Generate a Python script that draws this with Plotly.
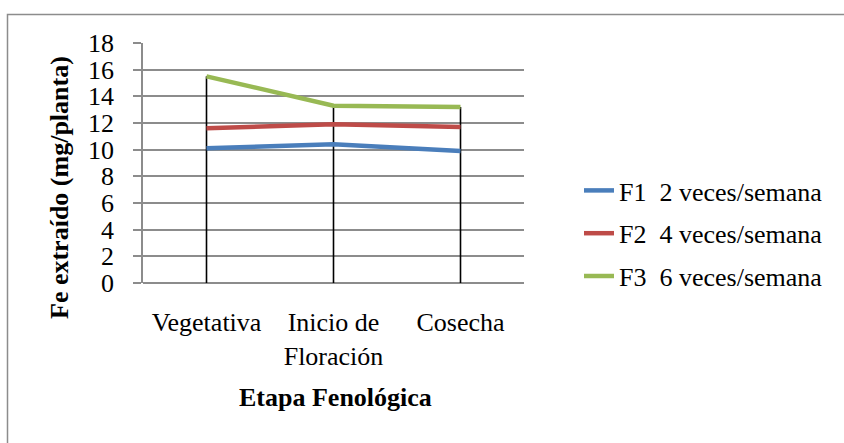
import plotly.graph_objects as go

# Fenological stages and Fe extracted per plant (mg/planta)
etapas = ["Vegetativa", "Inicio de<br>Floración", "Cosecha"]
f1 = [10.1, 10.4, 9.9]
f2 = [11.6, 11.9, 11.7]
f3 = [15.5, 13.3, 13.2]
nombres = ["F1  2 veces/semana", "F2  4 veces/semana", "F3  6 veces/semana"]
colores = ["#4A7EBB", "#BE4B48", "#98B954"]
y_ticks = [0, 2, 4, 6, 8, 10, 12, 14, 16, 18]

FONT = "Liberation Serif, Times New Roman, serif"
FS = 26

fig = go.Figure()

# Drop lines: from the highest series value down to zero at each stage
xs, ys = [], []
for i, cat in enumerate(etapas):
    top = max(f1[i], f2[i], f3[i])
    xs += [cat, cat, None]
    ys += [0, top, None]
fig.add_trace(go.Scatter(x=xs, y=ys, mode="lines", line=dict(color="black", width=1.6),
                         showlegend=False, hoverinfo="skip"))

for idx, (serie, nombre, color) in enumerate(zip([f1, f2, f3], nombres, colores)):
    fig.add_trace(go.Scatter(x=etapas, y=serie, name=nombre, mode="lines",
                             line=dict(color=color, width=4.5),
                             legendgroup=f"g{idx}"))

L, R, T, B = 143, 320, 43, 160
W, H = 844, 443
pw, ph = W - L - R, H - T - B

def px_x(x):
    return (x - L) / pw

def px_y(y):
    return (H - B - y) / ph

fig.update_layout(
    width=W, height=H,
    margin=dict(l=L, r=R, t=T, b=B, pad=0),
    paper_bgcolor="white", plot_bgcolor="white",
    font=dict(family=FONT, size=FS, color="black"),
    legend=dict(x=px_x(579), y=px_y(167), xanchor="left", yanchor="top",
                traceorder="grouped", tracegroupgap=6,
                font=dict(family=FONT, size=FS, color="black"),
                bgcolor="rgba(0,0,0,0)"),
    xaxis=dict(type="category", range=[-0.5, 2.5], showgrid=False,
               showline=False, ticks="", ticklabelstandoff=21,
               tickfont=dict(family=FONT, size=FS, color="black")),
    yaxis=dict(range=[0, 18], tickvals=y_ticks, showgrid=True,
               gridcolor="#8C8C8C", gridwidth=1.5,
               showline=True, linecolor="#8C8C8C", linewidth=1.5,
               ticks="outside", ticklen=8, tickcolor="#8C8C8C", tickwidth=1.5,
               ticklabelstandoff=14, zeroline=True, zerolinecolor="#8C8C8C",
               zerolinewidth=1.5,
               tickfont=dict(family=FONT, size=FS, color="black")),
    annotations=[
        dict(text="<b>Fe extraído (mg/planta)</b>", xref="paper", yref="paper",
             x=px_x(59), y=px_y(188), xanchor="center", yanchor="middle",
             textangle=-90, showarrow=False,
             font=dict(family=FONT, size=FS, color="black")),
        dict(text="<b>Etapa Fenológica</b>", xref="paper", yref="paper",
             x=px_x(335), y=px_y(397), xanchor="center", yanchor="middle",
             showarrow=False,
             font=dict(family=FONT, size=FS, color="black")),
    ],
    shapes=[
        dict(type="rect", xref="paper", yref="paper", layer="below",
             x0=px_x(7.5), y0=px_y(460), x1=px_x(870), y1=px_y(14.5),
             line=dict(color="#8C8C8C", width=1.5), fillcolor="rgba(0,0,0,0)"),
    ],
)

fig.write_html("out.html")
